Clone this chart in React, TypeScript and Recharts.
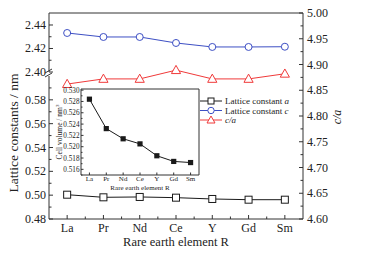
import React from 'react';
import { ComposedChart, Line, XAxis, YAxis, Legend } from 'recharts';

// values
const elements = ['La', 'Pr', 'Nd', 'Ce', 'Y', 'Gd', 'Sm'];
const latticeA = [0.5004, 0.4982, 0.4985, 0.4979, 0.4968, 0.4962, 0.4962];
const latticeC = [2.4332, 2.4298, 2.4298, 2.4247, 2.4213, 2.4213, 2.4215];
const ratioCA = [4.862, 4.872, 4.872, 4.889, 4.872, 4.872, 4.882];
const cellVolume = [0.5284, 0.5232, 0.5214, 0.5205, 0.5184, 0.5174, 0.5172];

const caTicks = [4.6, 4.625, 4.65, 4.675, 4.7, 4.725, 4.75, 4.775, 4.8, 4.825, 4.85, 4.875, 4.9, 4.925, 4.95, 4.975, 5.0];
const aTicks = [0.48, 0.49, 0.5, 0.51, 0.52, 0.53, 0.54, 0.55, 0.56, 0.57, 0.58, 0.59];
const cTicks = [2.4, 2.41, 2.42, 2.43, 2.44];
const volTicks = [0.515, 0.516, 0.517, 0.518, 0.519, 0.52, 0.521, 0.522, 0.523, 0.524, 0.525, 0.526, 0.527, 0.528, 0.529, 0.53];

const rows = elements.map((el, i) => ({
  el,
  a: latticeA[i],
  c: latticeC[i],
  ca: ratioCA[i],
  vol: cellVolume[i],
}));

const W = 371;
const H = 254;
const FONT = '"Liberation Serif", "DejaVu Serif", serif';
const AX = '#333';
const TXT = '#222';

// main plot box
const PL = 49;
const PR = 303;
const PT = 13;
const PB = 219;
const BREAK_TOP = 72;
const BREAK_BOTTOM = 76;
const step = (PR - PL) / elements.length;
const pad = step / 2;

// inset plot box
const IL = 81;
const IR = 199;
const IT = 89;
const IB = 175;
const istep = (IR - IL) / elements.length;
const ipad = istep / 2;

const BLACK = '#1a1a1a';
const BLUE = '#3d4fc4';
const RED = '#f03a3a';

const BottomTick = (props: any) => {
  const { x, y, payload } = props;
  const i = elements.indexOf(payload.value);
  return (
    <g>
      <line x1={x} y1={y} x2={x} y2={y - 4} stroke={AX} />
      {i < elements.length - 1 && (
        <line x1={x + step / 2} y1={y} x2={x + step / 2} y2={y - 2.5} stroke={AX} />
      )}
      <text x={x} y={y + 13} textAnchor="middle" fontSize={12} fontFamily={FONT} fill={TXT}>
        {payload.value}
      </text>
    </g>
  );
};

const RightTick = (props: any) => {
  const { x, y, payload } = props;
  const v = payload.value;
  const major = Math.round(v * 1000) % 50 === 0;
  return (
    <g>
      <line x1={x} y1={y} x2={x - (major ? 4 : 2.5)} y2={y} stroke={AX} />
      {major && (
        <text x={x + 4} y={y + 4} fontSize={12} fontFamily={FONT} fill={TXT}>
          {v.toFixed(2)}
        </text>
      )}
    </g>
  );
};

const LeftTick = (props: any) => {
  const { x, y, payload } = props;
  const v = payload.value;
  const major = Math.round(v * 100) % 2 === 0;
  const isBreak = Math.abs(v - 2.4) < 1e-6;
  return (
    <g>
      <line x1={x} y1={y} x2={x + (major ? 4 : 2.5)} y2={y} stroke={AX} />
      {major && (
        <text x={x - 3} y={y + 4} textAnchor="end" fontSize={12} fontFamily={FONT} fill={TXT}>
          {v.toFixed(2)}
        </text>
      )}
      {isBreak && (
        <g stroke={AX} strokeWidth={1}>
          <line x1={x - 4} y1={y + 1} x2={x + 3} y2={y - 3} />
          <line x1={x - 4} y1={y + 5} x2={x + 3} y2={y + 1} />
        </g>
      )}
    </g>
  );
};

const InsetBottomTick = (props: any) => {
  const { x, y, payload } = props;
  return (
    <g>
      <line x1={x} y1={y} x2={x} y2={y - 2.5} stroke={AX} />
      <text x={x} y={y + 5.5} textAnchor="middle" fontSize={7} fontFamily={FONT} fill={TXT}>
        {payload.value}
      </text>
    </g>
  );
};

const InsetLeftTick = (props: any) => {
  const { x, y, payload } = props;
  const v = payload.value;
  const major = Math.round(v * 1000) % 2 === 0;
  return (
    <g>
      <line x1={x} y1={y} x2={x + (major ? 2.5 : 1.5)} y2={y} stroke={AX} />
      {major && (
        <text x={x - 1.5} y={y + 2.5} textAnchor="end" fontSize={7.2} fontFamily={FONT} fill={TXT}>
          {v.toFixed(3)}
        </text>
      )}
    </g>
  );
};

const squareDot = (p: any) => (
  <rect key={`a-${p.index}`} x={p.cx - 3.5} y={p.cy - 3.5} width={7} height={7} fill="#fff" stroke={BLACK} strokeWidth={1} />
);
const circleDot = (p: any) => (
  <circle key={`c-${p.index}`} cx={p.cx} cy={p.cy} r={3.5} fill="#fff" stroke={BLUE} strokeWidth={1} />
);
const triangleDot = (p: any) => (
  <polygon
    key={`t-${p.index}`}
    points={`${p.cx},${p.cy - 4.8} ${p.cx - 4.6},${p.cy + 3.4} ${p.cx + 4.6},${p.cy + 3.4}`}
    fill="#fff"
    stroke={RED}
    strokeWidth={1}
  />
);
const filledSquare = (p: any) => (
  <rect key={`v-${p.index}`} x={p.cx - 2.6} y={p.cy - 2.6} width={5.2} height={5.2} fill={BLACK} />
);

const LegendBox = () => {
  const rowsY = [6, 15.5, 25];
  return (
    <svg width={110} height={32} style={{ display: 'block' }}>
      <g>
        <line x1={5} y1={rowsY[0]} x2={27} y2={rowsY[0]} stroke={BLACK} />
        <rect x={13} y={rowsY[0] - 3} width={6} height={6} fill="#fff" stroke={BLACK} />
        <text x={30} y={rowsY[0] + 3} fontSize={9} fontFamily={FONT} fill={TXT}>
          Lattice constant <tspan fontStyle="italic">a</tspan>
        </text>
      </g>
      <g>
        <line x1={5} y1={rowsY[1]} x2={27} y2={rowsY[1]} stroke={BLUE} />
        <circle cx={16} cy={rowsY[1]} r={3.2} fill="#fff" stroke={BLUE} />
        <text x={30} y={rowsY[1] + 3} fontSize={9} fontFamily={FONT} fill={TXT}>
          Lattice constant <tspan fontStyle="italic">c</tspan>
        </text>
      </g>
      <g>
        <line x1={5} y1={rowsY[2]} x2={27} y2={rowsY[2]} stroke={RED} />
        <polygon
          points={`16,${rowsY[2] - 4} 12,${rowsY[2] + 3} 20,${rowsY[2] + 3}`}
          fill="#fff"
          stroke={RED}
        />
        <text x={30} y={rowsY[2] + 3} fontSize={9} fontFamily={FONT} fill={TXT} fontStyle="italic">
          c/a
        </text>
      </g>
    </svg>
  );
};

const layer: React.CSSProperties = { position: 'absolute', left: 0, top: 0 };

export default function App() {
  return (
    <div style={{ position: 'fixed', left: 0, top: 0, width: W, height: H, background: '#fff' }}>
      {/* base chart: x axis, right c/a axis, frame, triangles, legend */}
      <div style={layer}>
        <ComposedChart
          width={W}
          height={H}
          data={rows}
          margin={{ top: PT - 1, right: W - PR - 40, bottom: H - PB - 30, left: PL }}
        >
          <XAxis
            dataKey="el"
            height={30}
            padding={{ left: pad, right: pad }}
            interval={0}
            tickSize={0}
            tickMargin={0}
            tickLine={false}
            axisLine={{ stroke: AX }}
            tick={BottomTick}
            label={{
              content: () => (
                <text x={(PL + PR) / 2} y={PB + 27} textAnchor="middle" fontSize={12.5} fontFamily={FONT} fill={TXT}>
                  Rare earth element R
                </text>
              ),
            }}
          />
          <XAxis
            xAxisId="top"
            dataKey="el"
            orientation="top"
            height={1}
            padding={{ left: pad, right: pad }}
            tick={false}
            tickLine={false}
            axisLine={{ stroke: AX }}
          />
          <YAxis
            yAxisId="ca"
            orientation="right"
            width={40}
            domain={[4.6, 5.0]}
            ticks={caTicks}
            interval={0}
            tickSize={0}
            tickMargin={0}
            tickLine={false}
            axisLine={{ stroke: AX }}
            tick={RightTick}
            label={{
              content: () => (
                <text
                  x={338}
                  y={117}
                  textAnchor="middle"
                  fontSize={12}
                  fontStyle="italic"
                  fontFamily={FONT}
                  fill={TXT}
                  transform="rotate(-90 338 117)"
                  dominantBaseline="middle"
                >
                  c/a
                </text>
              ),
            }}
          />
          <Line
            yAxisId="ca"
            dataKey="ca"
            stroke={RED}
            strokeWidth={1}
            dot={triangleDot}
            activeDot={false}
            isAnimationActive={false}
          />
          <Legend
            layout="horizontal"
            verticalAlign="middle"
            align="center"
            content={() => <LegendBox />}
            wrapperStyle={{ position: 'absolute', left: 195, top: 95, width: 110, height: 32 }}
          />
        </ComposedChart>
      </div>

      {/* lower segment of the broken left axis: lattice constant a */}
      <div style={layer}>
        <ComposedChart
          width={W}
          height={H}
          data={rows}
          margin={{ top: BREAK_BOTTOM, right: W - PR, bottom: H - PB, left: PL - 40 }}
        >
          <XAxis dataKey="el" hide padding={{ left: pad, right: pad }} />
          <YAxis
            yAxisId="a"
            width={40}
            domain={[0.48, 0.6]}
            ticks={aTicks}
            interval={0}
            tickSize={0}
            tickMargin={0}
            tickLine={false}
            axisLine={{ stroke: AX }}
            tick={LeftTick}
            label={{
              content: () => (
                <text
                  x={15}
                  y={133}
                  textAnchor="middle"
                  dominantBaseline="middle"
                  fontSize={13.5}
                  fontFamily={FONT}
                  fill={TXT}
                  transform="rotate(-90 15 133)"
                >
                  Lattice constants / nm
                </text>
              ),
            }}
          />
          <Line
            yAxisId="a"
            dataKey="a"
            stroke={BLACK}
            strokeWidth={1}
            dot={squareDot}
            activeDot={false}
            isAnimationActive={false}
          />
        </ComposedChart>
      </div>

      {/* upper segment of the broken left axis: lattice constant c */}
      <div style={layer}>
        <ComposedChart
          width={W}
          height={H}
          data={rows}
          margin={{ top: PT, right: W - PR, bottom: H - BREAK_TOP, left: PL - 40 }}
        >
          <XAxis dataKey="el" hide padding={{ left: pad, right: pad }} />
          <YAxis
            yAxisId="c"
            width={40}
            domain={[2.4, 2.4502]}
            ticks={cTicks}
            interval={0}
            tickSize={0}
            tickMargin={0}
            tickLine={false}
            axisLine={{ stroke: AX }}
            tick={LeftTick}
          />
          <Line
            yAxisId="c"
            dataKey="c"
            stroke={BLUE}
            strokeWidth={1}
            dot={circleDot}
            activeDot={false}
            isAnimationActive={false}
          />
        </ComposedChart>
      </div>

      {/* inset: cell volume */}
      <div style={layer}>
        <ComposedChart
          width={W}
          height={H}
          data={rows}
          margin={{ top: IT - 1, right: W - IR - 1, bottom: H - IB - 16, left: IL - 24 }}
        >
          <XAxis
            dataKey="el"
            height={16}
            padding={{ left: ipad, right: ipad }}
            interval={0}
            tickSize={0}
            tickMargin={0}
            tickLine={false}
            axisLine={{ stroke: AX }}
            tick={InsetBottomTick}
            label={{
              content: () => (
                <text x={(IL + IR) / 2} y={IB + 14.5} textAnchor="middle" fontSize={7} fontFamily={FONT} fill={TXT}>
                  Rare earth element R
                </text>
              ),
            }}
          />
          <XAxis
            xAxisId="top"
            dataKey="el"
            orientation="top"
            height={1}
            padding={{ left: ipad, right: ipad }}
            tick={false}
            tickLine={false}
            axisLine={{ stroke: AX }}
          />
          <YAxis
            yAxisId="v"
            width={24}
            domain={[0.515, 0.5302]}
            ticks={volTicks}
            interval={0}
            tickSize={0}
            tickMargin={0}
            tickLine={false}
            axisLine={{ stroke: AX }}
            tick={InsetLeftTick}
            label={{
              content: () => (
                <text
                  x={60}
                  y={(IT + IB) / 2}
                  textAnchor="middle"
                  dominantBaseline="middle"
                  fontSize={7.5}
                  fontFamily={FONT}
                  fill={TXT}
                  transform={`rotate(-90 60 ${(IT + IB) / 2})`}
                >
                  Cell volume / nm<tspan baselineShift="super" fontSize={5}>3</tspan>
                </text>
              ),
            }}
          />
          <YAxis
            yAxisId="r"
            orientation="right"
            width={1}
            domain={[0, 1]}
            tick={false}
            tickLine={false}
            axisLine={{ stroke: AX }}
          />
          <Line
            yAxisId="v"
            dataKey="vol"
            stroke={BLACK}
            strokeWidth={1}
            dot={filledSquare}
            activeDot={false}
            isAnimationActive={false}
          />
        </ComposedChart>
      </div>
    </div>
  );
}
